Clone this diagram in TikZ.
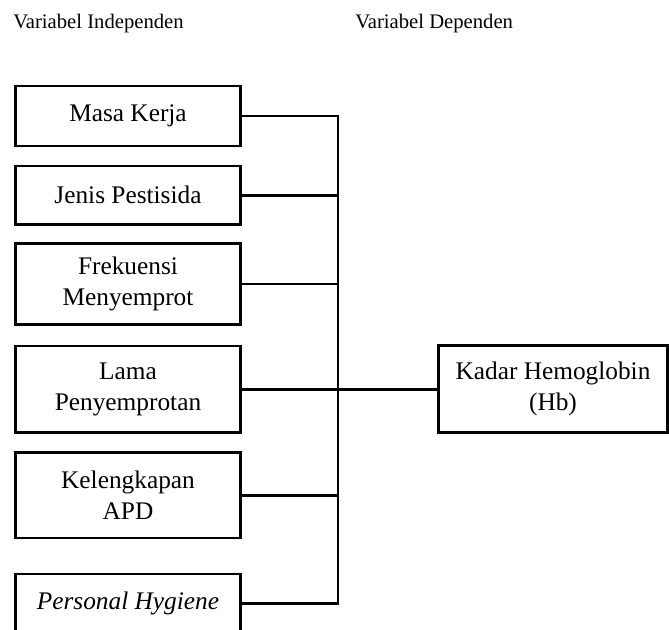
\documentclass[tikz,border=0pt]{standalone}
\usepackage{fontspec}
\setmainfont{Liberation Serif}
\usetikzlibrary{positioning}

\tikzset{
  varbox/.style={draw, line width=2pt, minimum width=169pt, align=center,
    font=\fontsize{19}{23.5}\selectfont},
  title/.style={inner sep=0pt, anchor=west, font=\fontsize{15.5}{18}\selectfont},
  link/.style={line width=2pt}
}

\begin{document}
\begin{tikzpicture}[x=0.75pt,y=-0.75pt]
   \useasboundingbox (0,0) rectangle (669,630);

   \node[title] (indep) at (13,24) {Variabel Independen};
   \node[title] (dep) at (355,24) {Variabel Dependen};

   % independent variables
   \node[varbox, minimum height=45pt] (masa) at (128,116) {Masa Kerja};
   \node[varbox, minimum height=44pt, below=13pt of masa] (jenis) {Jenis Pestisida};
   \node[varbox, minimum height=61pt, below=12pt of jenis] (frek) {Frekuensi\\Menyemprot};
   \node[varbox, minimum height=65pt, below=14pt of frek] (lama) {Lama\\Penyemprotan};
   \node[varbox, minimum height=64pt, below=13pt of lama] (lengkap) {Kelengkapan\\APD};
   \node[varbox, minimum height=44pt, below=25pt of lengkap] (hyg) {\itshape Personal Hygiene};

   % dependent variable
   \node[varbox, minimum width=172pt, minimum height=65pt] (hb) at (553,389) {Kadar Hemoglobin\\(Hb)};

   \coordinate (bus) at (338,0);

   \draw[link] (masa.east) -- (masa.east -| bus) -- (hyg.east -| bus) -- (hyg.east);
   \draw[link] (jenis.east) -- (jenis.east -| bus);
   \draw[link] (frek.east) -- (frek.east -| bus);
   \draw[link] (lama.east) -- (lama.east -| hb.west);
   \draw[link] (lengkap.east) -- (lengkap.east -| bus);
\end{tikzpicture}
\end{document}
